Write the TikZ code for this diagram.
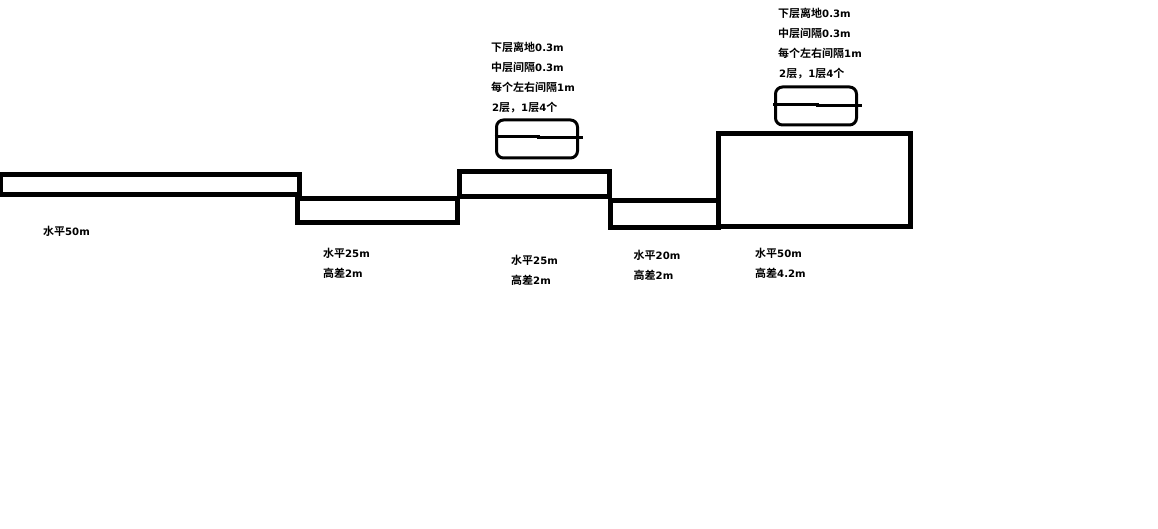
\documentclass[tikz,border=0pt]{standalone}
\usepackage{fontspec}
\setmainfont{DejaVu Sans}[Scale=0.92]
\newfontfamily\zh{Noto Sans CJK SC}[BoldFont={Noto Sans CJK SC Bold}]
\begin{document}
\begin{tikzpicture}[x=1pt, y=-1pt,
    ground/.style={rectangle, draw, line width=5pt, inner sep=0pt},
    tankbox/.style={rectangle, draw, line width=3pt, rounded corners=7pt, inner sep=0pt, minimum width=81pt, minimum height=38pt},
    tankline/.style={draw, line width=3pt},
    note/.style={anchor=north west, inner sep=0pt, align=left, font=\fontsize{11}{20}\selectfont\bfseries}]
    \useasboundingbox (0,0) rectangle (1158,529);
    \fill[white] (0,0) rectangle (1158,529);

    \node (grounda) [ground, minimum width=299pt, minimum height=20pt] at (150,184.5) {};
    \node (groundb) [ground, minimum width=160pt, minimum height=24pt] at (377.5,210.5) {};
    \node (groundc) [ground, minimum width=150pt, minimum height=25pt] at (534.5,184) {};
    \node (groundd) [ground, minimum width=108pt, minimum height=27pt] at (664.5,214) {};
    \node (grounde) [ground, minimum width=192pt, minimum height=93pt] at (814.5,180) {};

    \node (tanka) [tankbox] at (537,139) {};
    \node (tankb) [tankbox] at (816,106) {};
    \coordinate (tankaleft) at (494.5,137);
    \coordinate (tankaright) at (582.5,138);
    \coordinate (tankbleft) at (773,104.5);
    \coordinate (tankbright) at (862,105.5);
    \draw [tankline] (tankaleft) -- ++(44,0) -- ++(0,1) -- (tankaright);
    \draw [tankline] (tankbleft) -- ++(44,0) -- ++(0,1) -- (tankbright);

    \node (notea) [note] at (491,42) {{\zh 下层离地}0.3m\\{\zh 中层间隔}0.3m\\{\zh 每个左右间隔}1m\\\hspace{1pt}2{\zh 层，}1{\zh 层}4{\zh 个}};
    \node (noteb) [note] at (778,8) {{\zh 下层离地}0.3m\\{\zh 中层间隔}0.3m\\{\zh 每个左右间隔}1m\\\hspace{1pt}2{\zh 层，}1{\zh 层}4{\zh 个}};

    \node (labela) [note] at (43,226) {{\zh 水平}50m};
    \node (labelb) [note] at (323,248) {{\zh 水平}25m\\{\zh 高差}2m};
    \node (labelc) [note] at (511,255) {{\zh 水平}25m\\{\zh 高差}2m};
    \node (labeld) [note] at (633.5,250) {{\zh 水平}20m\\{\zh 高差}2m};
    \node (labele) [note] at (755,248) {{\zh 水平}50m\\{\zh 高差}4.2m};
\end{tikzpicture}
\end{document}
